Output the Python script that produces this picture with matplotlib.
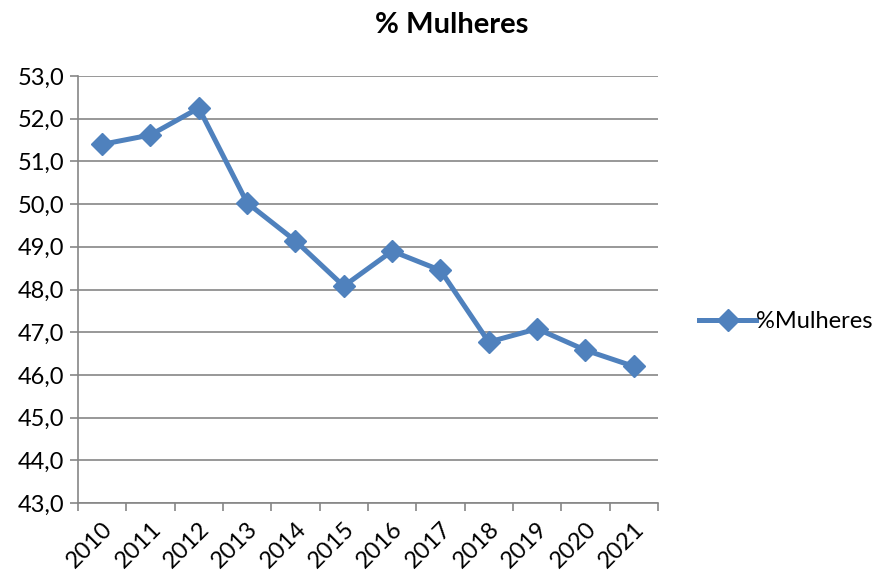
import numpy as np
from matplotlib import pyplot as plt

years = ['2010', '2011', '2012', '2013', '2014', '2015',
         '2016', '2017', '2018', '2019', '2020', '2021']
pct_mulheres = [51.4, 51.62, 52.25, 50.03, 49.14, 48.08,
                48.9, 48.45, 46.77, 47.08, 46.58, 46.2]

plt.rcParams['font.family'] = ['Lato', 'DejaVu Sans']
grey = '#868686'

fig = plt.figure(figsize=(8.83, 5.76), dpi=100)
ax = fig.add_axes([0.0883, 0.1267, 0.6568, 0.7413])

x = np.arange(len(years))
ax.plot(x, pct_mulheres, color='#4F81BD', linewidth=3.6, marker='D',
        markersize=11.5, label='%Mulheres')

ax.set_xlim(-0.5, len(years) - 0.5)
ax.set_ylim(43, 53)
ax.set_yticks(np.arange(43, 53.5, 1))
ax.set_yticklabels([f'{v:.1f}'.replace('.', ',') for v in np.arange(43, 53.5, 1)],
                   fontsize=17)
ax.yaxis.grid(True, color=grey, linewidth=1.2)
ax.set_axisbelow(True)

# category ticks sit between the years, labels at the centres
ax.set_xticks(np.arange(-0.5, len(years), 1))
ax.set_xticklabels([])
ax.set_xticks(x, minor=True)
ax.set_xticklabels(years, minor=True, rotation=45, ha='right',
                   rotation_mode='anchor', fontsize=17)
ax.tick_params(axis='x', which='minor', length=0, pad=11)
ax.tick_params(axis='x', which='major', length=6, color=grey, width=1.2)
ax.tick_params(axis='y', length=6, color=grey, width=1.2, pad=4)

for side in ['top', 'right']:
    ax.spines[side].set_visible(False)
for side in ['left', 'bottom']:
    ax.spines[side].set_color(grey)
    ax.spines[side].set_linewidth(1.2)

fig.text(0.512, 0.957, '% Mulheres', fontsize=21, fontweight='bold',
         ha='center', va='center')

ax.legend(loc='center left', bbox_to_anchor=(1.035, 0.424), frameon=False,
          fontsize=17, handlelength=2.4, handletextpad=0.0)

fig.savefig('out.png', dpi=100)
